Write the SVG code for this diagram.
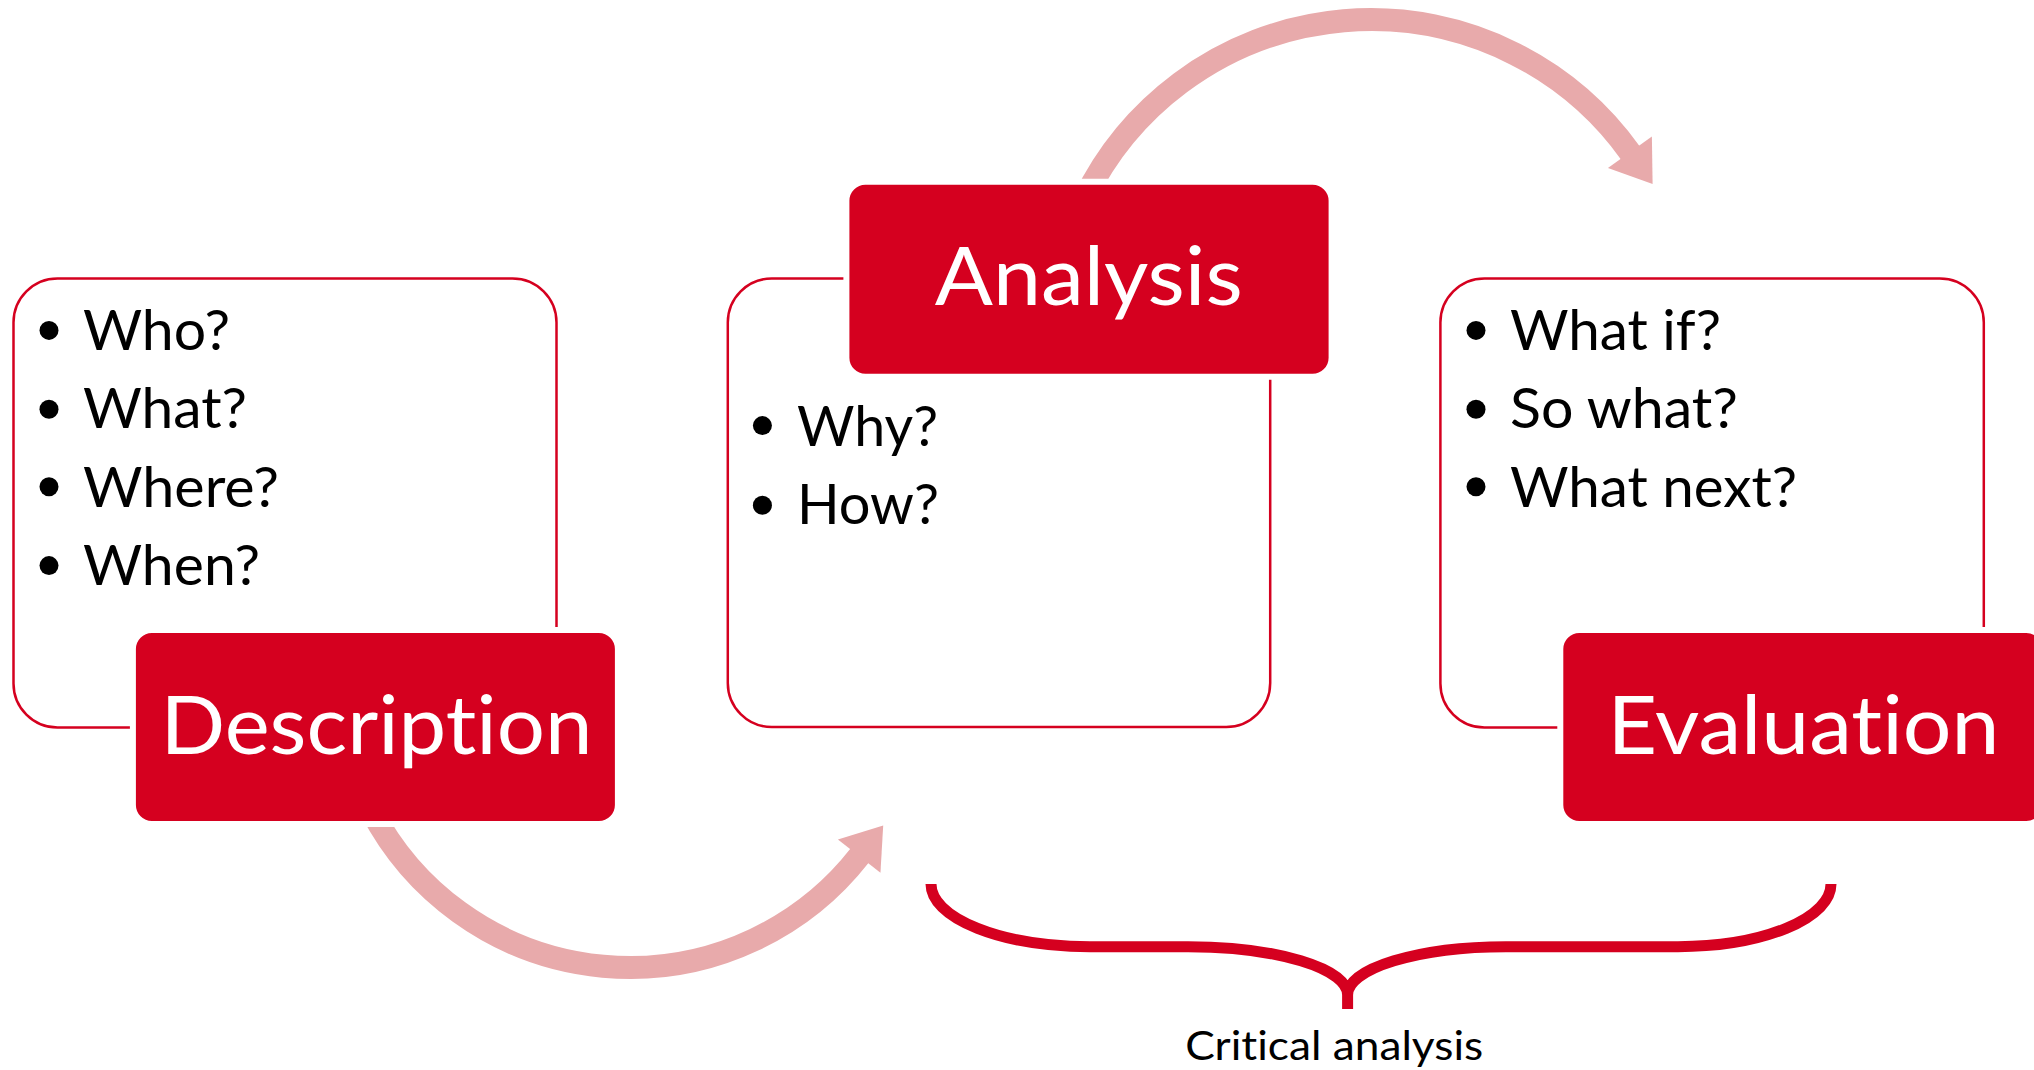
<svg xmlns="http://www.w3.org/2000/svg" width="2034" height="1070" viewBox="0 0 2034 1070">
<defs>
<style>
.outline{fill:#fff;stroke:#D5001F;stroke-width:2.5}
.lab{fill:#D5001F;stroke:#fff;stroke-width:6}
.labt{font-family:Lato,"Liberation Sans",sans-serif;font-size:82px;fill:#fff;text-anchor:middle;font-variant-ligatures:none;font-feature-settings:"liga" 0,"clig" 0,"dlig" 0}
.bt{font-family:Lato,"Liberation Sans",sans-serif;font-size:56px;fill:#000;font-variant-ligatures:none;font-feature-settings:"liga" 0,"clig" 0}
.dot{fill:#000}
.arc{fill:none;stroke:#E8AAAB;stroke-width:23;stroke-linecap:butt}
.brace{fill:none;stroke:#D5001F;stroke-width:11;stroke-linecap:butt}
.cap{font-family:Lato,"Liberation Sans",sans-serif;font-size:40px;fill:#000;text-anchor:middle;font-variant-ligatures:none;font-feature-settings:"liga" 0,"clig" 0}
</style>
<marker id="head" markerUnits="userSpaceOnUse" orient="auto" refX="0" refY="0" markerWidth="80" markerHeight="80" viewBox="-40 -40 80 80" overflow="visible">
<path d="M-1,-27 L38,0 L-1,27 Z" fill="#E8AAAB"/>
</marker>
</defs>
<rect width="2034" height="1070" fill="#fff"/>
<g id="description">
<rect class="outline" x="13.5" y="278.5" width="543" height="449" rx="44"/>
<circle class="dot" cx="49" cy="330.4" r="9.5"/>
<circle class="dot" cx="49" cy="409.3" r="9.5"/>
<circle class="dot" cx="49" cy="486.7" r="9.5"/>
<circle class="dot" cx="49" cy="565.6" r="9.5"/>
<text class="bt" x="83" y="349.5" textLength="147" lengthAdjust="spacingAndGlyphs">Who?</text>
<text class="bt" x="83" y="428" textLength="164" lengthAdjust="spacingAndGlyphs">What?</text>
<text class="bt" x="83" y="506.5" textLength="196" lengthAdjust="spacingAndGlyphs">Where?</text>
<text class="bt" x="83" y="585" textLength="177" lengthAdjust="spacingAndGlyphs">When?</text>
</g>
<g id="analysis">
<rect class="outline" x="727.8" y="278.5" width="542.4" height="448.5" rx="44"/>
<circle class="dot" cx="762.4" cy="425.6" r="9.5"/>
<circle class="dot" cx="762.4" cy="505.2" r="9.5"/>
<text class="bt" x="797" y="445.9" textLength="141" lengthAdjust="spacingAndGlyphs">Why?</text>
<text class="bt" x="797" y="524.4" textLength="142" lengthAdjust="spacingAndGlyphs">How?</text>
</g>
<g id="evaluation">
<rect class="outline" x="1440.4" y="278.5" width="543.4" height="449" rx="44"/>
<circle class="dot" cx="1476" cy="330.4" r="9.5"/>
<circle class="dot" cx="1476" cy="409.3" r="9.5"/>
<circle class="dot" cx="1476" cy="486.7" r="9.5"/>
<text class="bt" x="1510" y="349.5" textLength="211" lengthAdjust="spacingAndGlyphs">What if?</text>
<text class="bt" x="1510" y="428" textLength="228" lengthAdjust="spacingAndGlyphs">So what?</text>
<text class="bt" x="1510" y="506.5" textLength="287" lengthAdjust="spacingAndGlyphs">What next?</text>
</g>
<g id="connectors">
<path class="arc" d="M1083.7,200 A319,319 0 0 1 1630.5,153.1" marker-end="url(#head)"/>
<path class="arc" d="M371.1,810 A291.6,291.6 0 0 0 859.8,855.4" marker-end="url(#head)"/>
</g>
<g id="description-label">
<rect class="lab" x="132.9" y="630" width="485" height="194" rx="19"/>
<text class="labt" x="376.5" y="753.7" textLength="432" lengthAdjust="spacingAndGlyphs">Description</text>
</g>
<g id="analysis-label">
<rect class="lab" x="846.4" y="181.8" width="485.2" height="195" rx="19"/>
<text class="labt" x="1088.8" y="305.2" textLength="308" lengthAdjust="spacingAndGlyphs">Analysis</text>
</g>
<g id="evaluation-label">
<rect class="lab" x="1560.3" y="630" width="485" height="194" rx="19"/>
<text class="labt" x="1803.4" y="753.7" textLength="392" lengthAdjust="spacingAndGlyphs">Evaluation</text>
</g>
<g id="critical-analysis">
<path class="brace" d="M931,884 A159,62.7 0 0 0 1090,946.7 H1188 A159.6,48.3 0 0 1 1347.6,995 V1009 M1347.6,995 A158.4,48.3 0 0 1 1506,946.7 H1678 A153,62.7 0 0 0 1831,884"/>
<text class="cap" x="1334.2" y="1060" textLength="298" lengthAdjust="spacingAndGlyphs">Critical analysis</text>
</g>
</svg>
